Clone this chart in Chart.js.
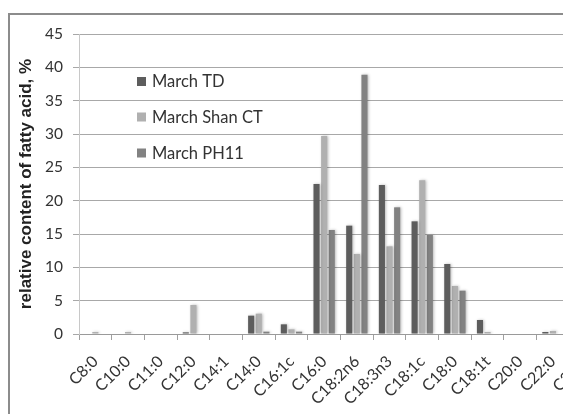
<!DOCTYPE html>
<html>
<head>
<meta charset="utf-8">
<script src="https://cdn.jsdelivr.net/npm/chart.js@4.4.1/dist/chart.umd.min.js"></script>
<style>
  html, body { margin: 0; padding: 0; background: #fff; overflow: hidden; width: 563px; height: 414px; }
  #wrap { position: relative; width: 563px; height: 414px; overflow: hidden; }
  #frame { position: absolute; left: 8px; top: 13px; width: 700px; height: 500px; border: 2px solid #8c8c8c; box-sizing: border-box; }
  #cv { position: absolute; left: 0; top: 0; }
</style>
</head>
<body>
<div id="wrap">
  <div id="frame"></div>
  <canvas id="cv" width="640" height="414"></canvas>
</div>
<script>
const categories = ["C8:0","C10:0","C11:0","C12:0","C14:1","C14:0","C16:1c","C16:0","C18:2n6","C18:3n3","C18:1c","C18:0","C18:1t","C20:0","C22:0","C24:0"];
const seriesNames = ["March TD","March Shan CT","March PH11"];
const marchTD     = [0,   0,   0, 0.25, 0, 2.75, 1.45, 22.5, 16.25, 22.35, 16.9, 10.5, 2.1, 0, 0.3, 0];
const marchShanCT = [0.3, 0.3, 0, 4.35, 0, 3.05, 0.7,  29.7, 12.0,  13.15, 23.05, 7.2, 0.3, 0, 0.45, 0];
const marchPH11   = [0,   0,   0, 0,    0, 0.35, 0.35, 15.6, 38.9,  19.0,  14.85, 6.5, 0,   0, 0,    0];
const yTicks = [0,5,10,15,20,25,30,35,40,45];
const colors = ["#5d5d5d", "#b0b0b0", "#828282"];

const FONT = "Lato, 'Liberation Sans', Arial, sans-serif";

const shadowPlugin = {
  id: 'barShadow',
  beforeDatasetsDraw(chart) {
    const ctx = chart.ctx;
    ctx.save();
    ctx.shadowColor = 'rgba(0,0,0,0.28)';
    ctx.shadowBlur = 3;
    ctx.shadowOffsetX = 1;
    ctx.shadowOffsetY = 0;
  },
  afterDatasetsDraw(chart) {
    chart.ctx.restore();
  }
};

const legendPlugin = {
  id: 'customLegend',
  afterDraw(chart) {
    const ctx = chart.ctx;
    ctx.save();
    const x0 = 137, ys = [81.5, 117, 153];
    ctx.font = "16.5px " + FONT;
    ctx.textBaseline = 'middle';
    ctx.textAlign = 'left';
    chart.data.datasets.forEach((ds, i) => {
      ctx.fillStyle = ds.backgroundColor;
      ctx.fillRect(x0, ys[i] - 4.5, 9, 9);
      ctx.fillStyle = '#333';
      ctx.fillText(ds.label, x0 + 15, ys[i] + 0.5);
    });
    ctx.restore();
  }
};

new Chart(document.getElementById('cv'), {
  type: 'bar',
  data: {
    labels: categories,
    datasets: [
      { label: seriesNames[0], data: marchTD, backgroundColor: colors[0] },
      { label: seriesNames[1], data: marchShanCT, backgroundColor: colors[1] },
      { label: seriesNames[2], data: marchPH11, backgroundColor: colors[2] }
    ]
  },
  options: {
    responsive: false,
    animation: false,
    devicePixelRatio: 1,
    layout: { padding: { left: 0, top: 34, right: 38, bottom: 0 } },
    datasets: { bar: { barPercentage: 0.8, categoryPercentage: 0.7 } },
    plugins: { legend: { display: false }, tooltip: { enabled: false } },
    scales: {
      x: {
        offset: true,
        grid: { offset: true, drawOnChartArea: false, drawTicks: true, tickLength: 6, color: '#a0a0a0' },
        border: { color: '#9a9a9a', width: 1 },
        ticks: {
          autoSkip: false, minRotation: 45, maxRotation: 45, padding: 12,
          color: '#333', font: { family: FONT, size: 16 }
        },
        afterFit(scale) { scale.height = 80; }
      },
      y: {
        min: 0, max: 45,
        afterBuildTicks(scale) { scale.ticks = yTicks.map(v => ({ value: v })); },
        grid: { color: '#a8a8a8', tickLength: 6, lineWidth: 1 },
        border: { color: '#c8c8c8', width: 1 },
        ticks: { color: '#333', padding: 10, font: { family: FONT, size: 15.5 } },
        title: {
          display: true, text: 'relative content of fatty acid, %',
          color: '#222', font: { family: "'Liberation Sans', Arial, sans-serif", size: 17, weight: 'bold' },
          padding: { top: 16, bottom: 0 }
        },
        afterFit(scale) { scale.width = 79; }
      }
    }
  },
  plugins: [shadowPlugin, legendPlugin]
});
</script>
</body>
</html>
